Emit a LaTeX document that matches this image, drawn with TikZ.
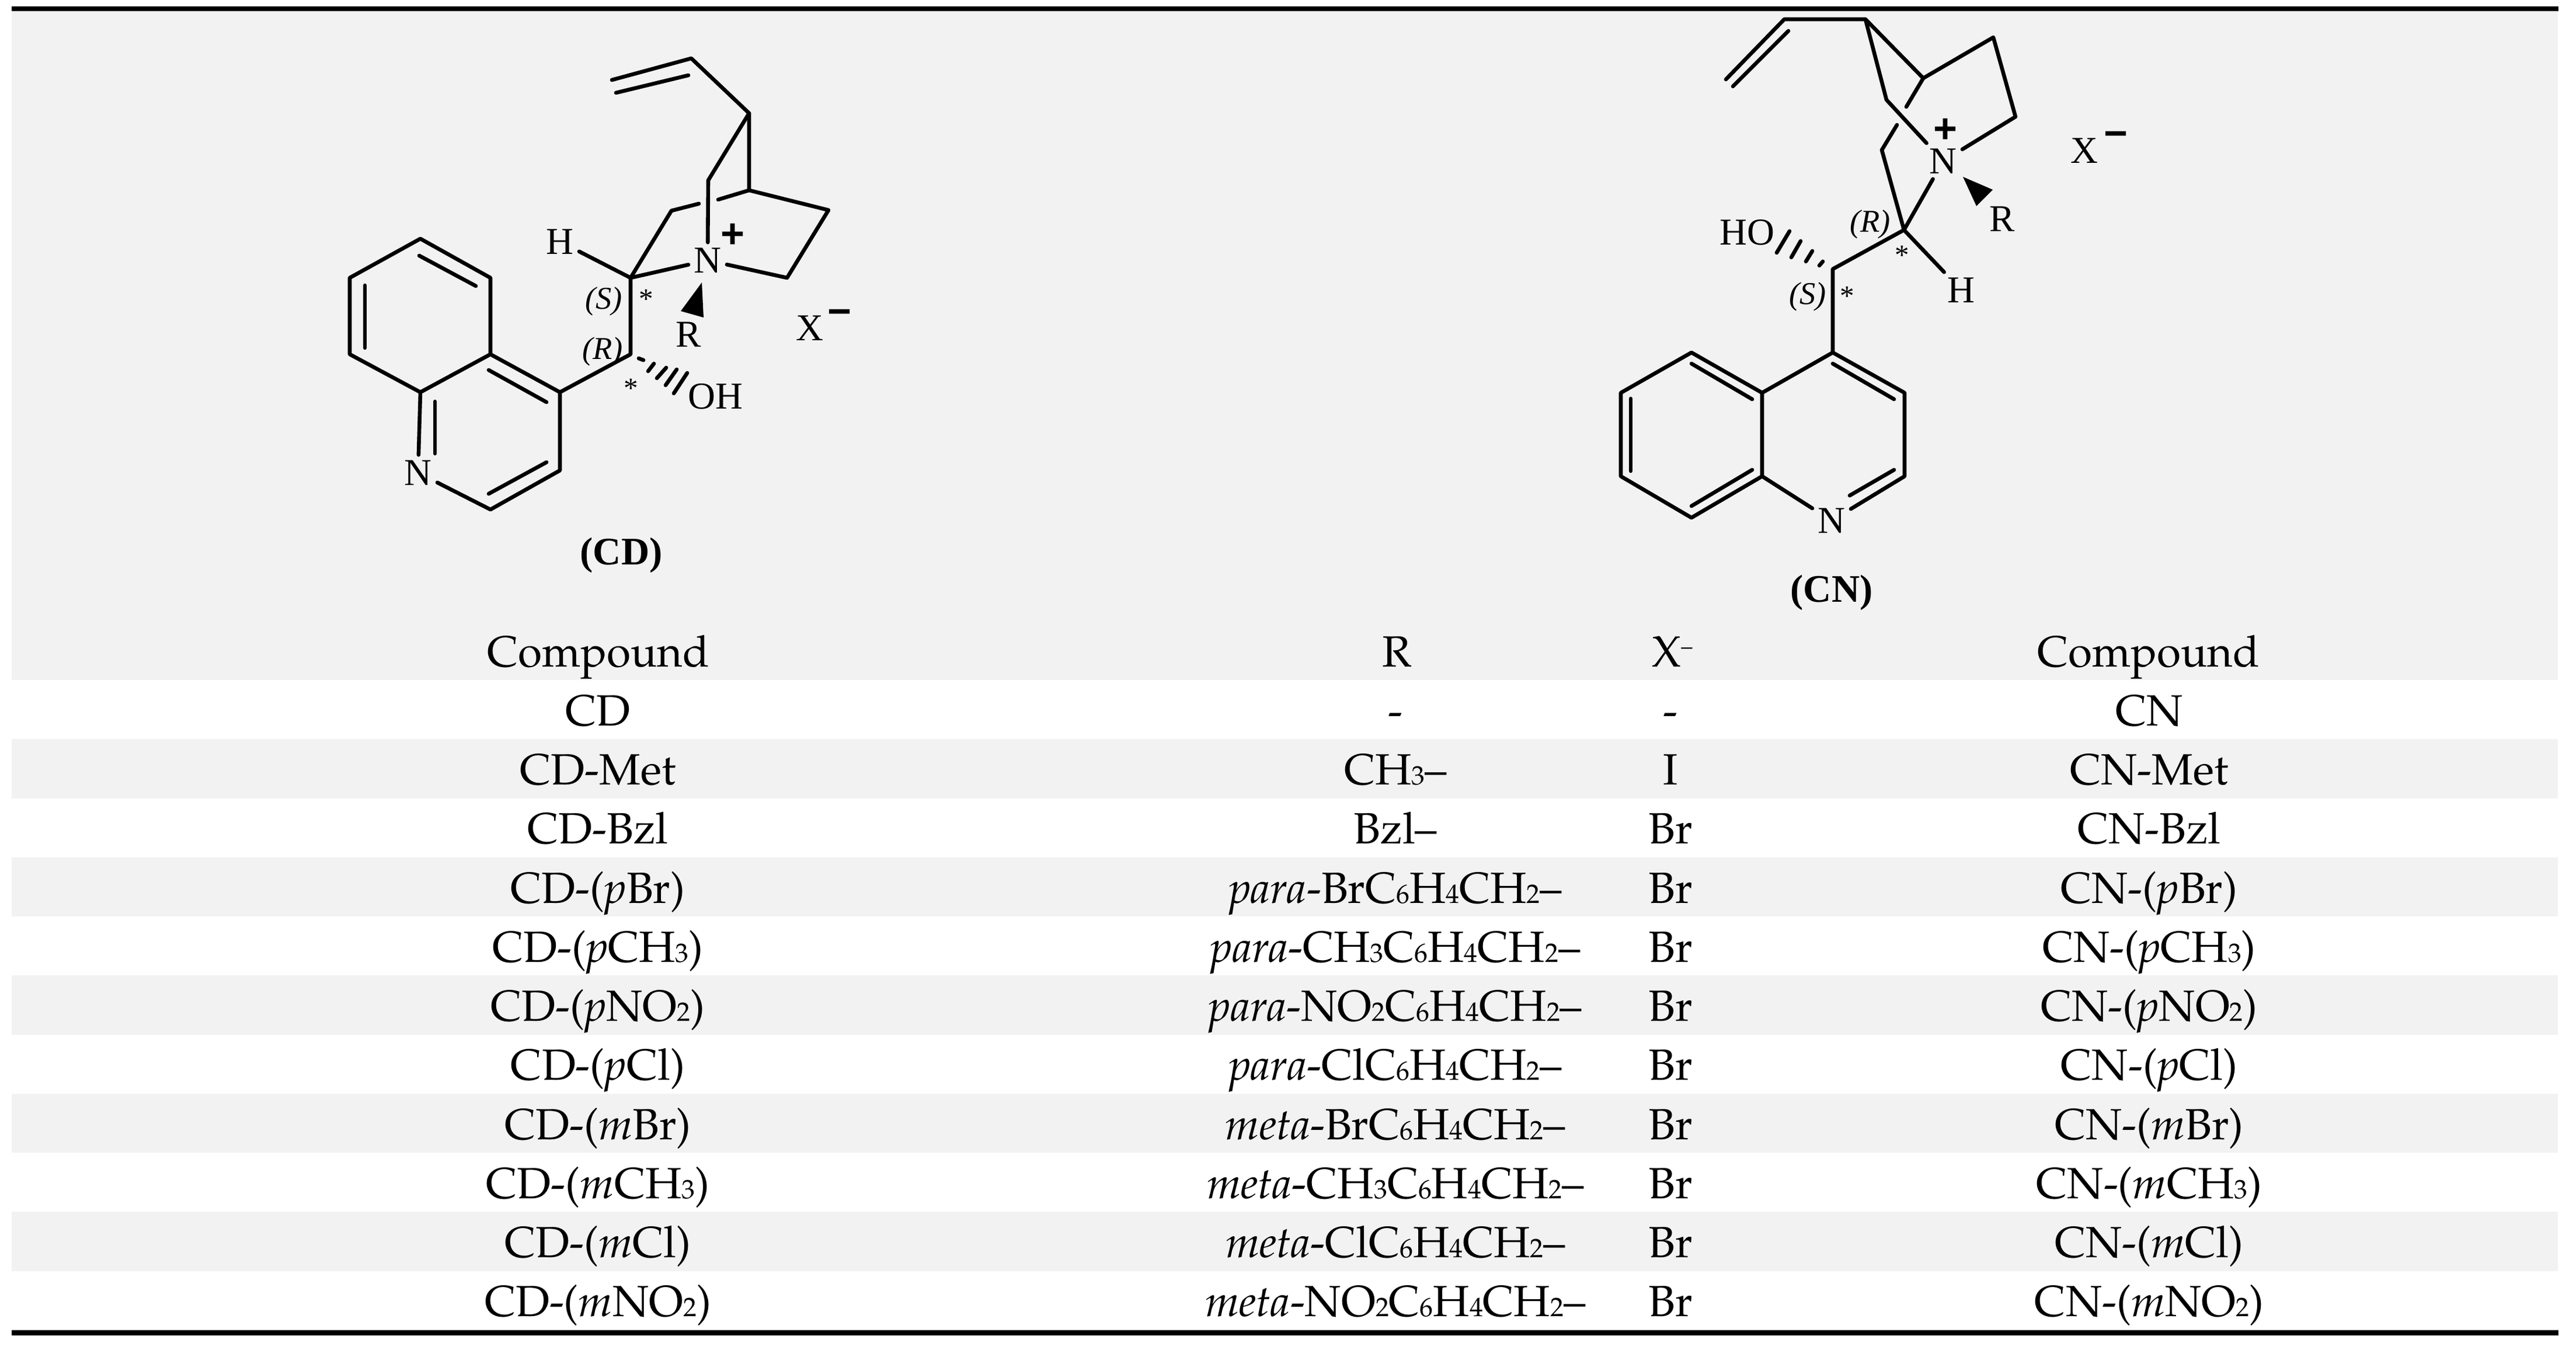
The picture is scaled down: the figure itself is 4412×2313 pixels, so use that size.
\documentclass[tikz,border=0pt]{standalone}
\usepackage[T1]{fontenc}
\usepackage{fontspec}
\newfontfamily\chemfont{Liberation Serif}
\newfontfamily\chargefont{Liberation Sans}
\newcommand{\tabfont}{\fontencoding{T1}\fontfamily{ppl}\fontsize{21.3}{25}\selectfont}
\newcommand{\chemsub}[1]{{\fontsize{13}{13}\selectfont #1}}
\definecolor{bandgrey}{HTML}{F2F2F2}
\tikzset{
    px/.style={x=0.1mm,y=-0.1mm},
    band/.style={fill=bandgrey,draw=none},
    tablerule/.style={line width=0.85mm},
    bond/.style={line width=0.66mm,line cap=round,line join=round},
    atom/.style={inner sep=2.5pt,font=\chemfont\fontsize{18.5}{20}\selectfont},
    stereo/.style={inner sep=0pt,font=\chemfont\itshape\fontsize{15.5}{18}\selectfont},
    star/.style={inner sep=0pt,font=\chemfont\fontsize{14}{16}\selectfont},
    charge/.style={inner sep=0pt,font=\chargefont\bfseries\fontsize{20}{20}\selectfont},
    title/.style={inner sep=0pt,font=\chemfont\bfseries\fontsize{19}{22}\selectfont},
    cell/.style={anchor=base,inner sep=0pt,font=\tabfont},
}

\begin{document}
\begin{tikzpicture}[px]
    \useasboundingbox (0,0) rectangle (4412,2313);

    % table bands and rules
    \fill[band] (20,15) rectangle (4381,1165);
    \foreach \row in {1,3,5,7,9}
        \fill[band] (20,{1165+101.27*\row}) rectangle (4381,{1165+101.27*(\row+1)});
    \draw[tablerule] (20,15) -- (4382,15);
    \draw[tablerule] (20,2283.5) -- (4382,2283.5);

    % CD atoms
    \foreach \name/\x/\y in {cdva/1048/137,cdvb/1184/100,cdvc/1055/159,cdvd/1179/129,
        cdtop/1283/194,cdbr/1283/326,cdup/1213/309,cdra/1419/360,cdrb/1348/476,
        cdgapa/1230/342,cdgapb/1197/349,cdla/1150/361,cdcs/1080/476,cdcr/1080/607,
        cdqa/720/409,cdqb/840/476,cdqc/840/607,cdqd/720/672,cdqe/599/607,cdqf/599/476,
        cdqg/959/672,cdqh/959/806,cdqi/840/873}
        \coordinate (\name) at (\x,\y);
    \node[atom] (cdnplus) at (1212,446) {N};
    \node[atom] (cdh) at (959,414) {H};
    \node[atom] (cdn) at (716,810) {N};
    \node[atom] (cdr) at (1179,573) {R};
    \node[atom] (cdoh) at (1225,679) {OH};
    \node[atom] (cdx) at (1387,562) {X};
    \node[charge] (cdplus) at (1255,404) {+};
    \node[charge] (cdminus) at (1438,544) {−};
    \node[stereo] (cds) at (1034,516) {(S)};
    \node[stereo] (cdrr) at (1032,602) {(R)};
    \node[star] (cdstara) at (1107,512) {*};
    \node[star] (cdstarb) at (1081,665) {*};
    \node[title] (cdname) at (1064,951) {(CD)};

    % CD bonds
    \draw[bond] (cdva) -- (cdvb) -- (cdtop) -- (cdbr) -- (cdra) -- (cdrb) -- (cdnplus);
    \draw[bond] (cdvc) -- (cdvd);
    \draw[bond] (cdtop) -- (cdup) -- (cdnplus);
    \draw[bond] (cdbr) -- (cdgapa);
    \draw[bond] (cdgapb) -- (cdla) -- (cdcs) -- (cdnplus);
    \draw[bond] (cdcs) -- (cdh);
    \draw[bond] (cdcs) -- (cdcr) -- (cdqg) -- (cdqh) -- (cdqi) -- (cdn) -- (cdqd);
    \draw[bond] (cdqa) -- (cdqb) -- (cdqc) -- (cdqd) -- (cdqe) -- (cdqf) -- cycle;
    \draw[bond] (cdqc) -- (cdqg);
    \draw[bond] (625,489) -- (625,596);
    \draw[bond] (718,438) -- (815,490);
    \draw[bond] (837,634) -- (936,689);
    \draw[bond] (745,688) -- (745,777);
    \draw[bond] (837,846) -- (936,792);
    \fill (1202,484) -- (1166,533) -- (1205,544) -- cycle;
    \draw[bond] (1094,614) -- (1102,617);
    \draw[bond] (1110,636) -- (1120,623);
    \draw[bond] (1125,648) -- (1141,630);
    \draw[bond] (1140,660) -- (1159,633);
    \draw[bond] (1154,674) -- (1177,639);

    % CN atoms
    \foreach \name/\x/\y in {cnva/2956/136,cnvb/3056/33,cnvc/2968/148,cnvd/3063/53,
        cntop/3195/33,cnbr/3294/134,cnup/3231/171,cnra/3414/64,cnrb/3452/200,
        cngapa/3265/183,cngapb/3249/214,cnla/3223/257,cncr/3261/394,cncs/3139/461,
        cnqa/3139/604,cnqb/3262/673,cnqc/3262/816,cnqd/3018/816,cnqe/3018/673,
        cnqf/2897/604,cnqg/2776/673,cnqh/2776/816,cnqi/2897/887}
        \coordinate (\name) at (\x,\y);
    \node[atom] (cnnplus) at (3328,276) {N};
    \node[atom] (cnh) at (3359,497) {H};
    \node[atom] (cnn) at (3137,892) {N};
    \node[atom] (cnr) at (3429,375) {R};
    \node[atom] (cnho) at (2992,398) {HO};
    \node[atom] (cnx) at (3570,258) {X};
    \node[charge] (cnplus) at (3332,224) {+};
    \node[charge] (cnminus) at (3624,239) {−};
    \node[stereo] (cnrr) at (3203,384) {(R)};
    \node[stereo] (cns) at (3096,508) {(S)};
    \node[star] (cnstara) at (3258,437) {*};
    \node[star] (cnstarb) at (3164,507) {*};
    \node[title] (cnname) at (3137,1015) {(CN)};

    % CN bonds
    \draw[bond] (cnva) -- (cnvb) -- (cntop) -- (cnbr) -- (cnra) -- (cnrb) -- (cnnplus);
    \draw[bond] (cnvc) -- (cnvd);
    \draw[bond] (cntop) -- (cnup) -- (cnnplus);
    \draw[bond] (cnbr) -- (cngapa);
    \draw[bond] (cngapb) -- (cnla) -- (cncr) -- (cnnplus);
    \draw[bond] (cncr) -- (cnh);
    \draw[bond] (cncr) -- (cncs) -- (cnqa) -- (cnqb) -- (cnqc) -- (cnn) -- (cnqd);
    \draw[bond] (cnqa) -- (cnqe);
    \draw[bond] (cnqe) -- (cnqf) -- (cnqg) -- (cnqh) -- (cnqi) -- (cnqd) -- cycle;
    \draw[bond] (3139,623) -- (3244,684);
    \draw[bond] (3244,805) -- (3168,849);
    \draw[bond] (3001,805) -- (2897,867);
    \draw[bond] (2793,683) -- (2793,807);
    \draw[bond] (2897,623) -- (3001,684);
    \fill (3362,303) -- (3413,325) -- (3385,353) -- cycle;
    \draw[bond] (3116,455) -- (3122,448);
    \draw[bond] (3093,448) -- (3104,430);
    \draw[bond] (3068,441) -- (3084,413);
    \draw[bond] (3043,433) -- (3065,396);

    % table text
    \node[cell] (headcd) at (1025,1142) {Compound};
    \node[cell] (headr) at (2392,1142) {R};
    \node[cell] (headx) at (2864,1142) {X\raisebox{0.62ex}{\fontsize{11}{11}\selectfont --}};
    \node[cell] (headcn) at (3680,1142) {Compound};
    \foreach \row/\cdname/\rname/\xname/\cnname in {
        1/CD/-/-/CN,
        2/CD-Met/CH\chemsub{3}--/I/CN-Met,
        3/CD-Bzl/Bzl--/Br/CN-Bzl,
        4/CD-(\textit{p}Br)/\textit{para}-BrC\chemsub{6}H\chemsub{4}CH\chemsub{2}--/Br/CN-(\textit{p}Br),
        5/CD-(\textit{p}CH\chemsub{3})/\textit{para}-CH\chemsub{3}C\chemsub{6}H\chemsub{4}CH\chemsub{2}--/Br/CN-(\textit{p}CH\chemsub{3}),
        6/CD-(\textit{p}NO\chemsub{2})/\textit{para}-NO\chemsub{2}C\chemsub{6}H\chemsub{4}CH\chemsub{2}--/Br/CN-(\textit{p}NO\chemsub{2}),
        7/CD-(\textit{p}Cl)/\textit{para}-ClC\chemsub{6}H\chemsub{4}CH\chemsub{2}--/Br/CN-(\textit{p}Cl),
        8/CD-(\textit{m}Br)/\textit{meta}-BrC\chemsub{6}H\chemsub{4}CH\chemsub{2}--/Br/CN-(\textit{m}Br),
        9/CD-(\textit{m}CH\chemsub{3})/\textit{meta}-CH\chemsub{3}C\chemsub{6}H\chemsub{4}CH\chemsub{2}--/Br/CN-(\textit{m}CH\chemsub{3}),
        10/CD-(\textit{m}Cl)/\textit{meta}-ClC\chemsub{6}H\chemsub{4}CH\chemsub{2}--/Br/CN-(\textit{m}Cl),
        11/CD-(\textit{m}NO\chemsub{2})/\textit{meta}-NO\chemsub{2}C\chemsub{6}H\chemsub{4}CH\chemsub{2}--/Br/CN-(\textit{m}NO\chemsub{2})}
    {
        \node[cell] (cdcell\row) at (1024,{1142+101.27*\row}) {\cdname};
        \node[cell] (rcell\row) at (2390,{1142+101.27*\row}) {\rname};
        \node[cell] (xcell\row) at (2861,{1142+101.27*\row}) {\xname};
        \node[cell] (cncell\row) at (3681,{1142+101.27*\row}) {\cnname};
    }
\end{tikzpicture}
\end{document}
